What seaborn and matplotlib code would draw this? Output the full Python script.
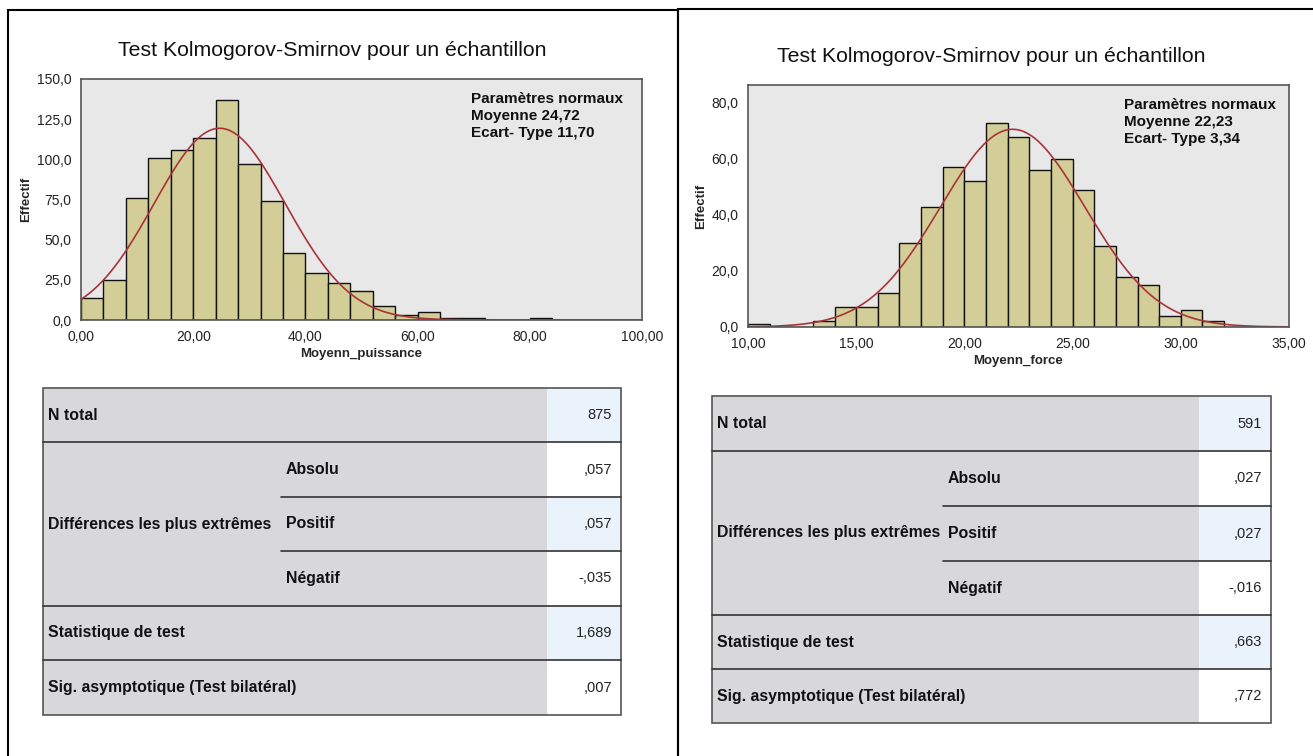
import numpy as np
import pandas as pd
import seaborn as sns
import matplotlib.pyplot as plt
from matplotlib.patches import Rectangle
from matplotlib.ticker import FuncFormatter

# Histogram data
puis_edges = list(range(0, 104, 4))
puis_counts = [14, 25, 76, 101, 106, 113, 137, 97, 74, 42, 29, 23, 18, 9, 3, 5,
               1, 1, 0, 0, 1, 0, 0, 0, 0]
force_edges = list(range(10, 36, 1))
force_counts = [1, 0, 0, 2, 7, 7, 12, 30, 43, 57, 52, 73, 68, 56, 60, 49, 29, 18,
                15, 4, 6, 2, 0, 0, 0]

puis_mean, puis_sd, puis_n = 24.72, 11.70, 875
force_mean, force_sd, force_n = 22.23, 3.34, 591

# Table content
row_labels = ["N total", "Différences les plus extrêmes", "Statistique de test",
              "Sig. asymptotique (Test bilatéral)"]
sub_labels = ["Absolu", "Positif", "Négatif"]
puis_values = ["875", ",057", ",057", "-,035", "1,689", ",007"]
force_values = ["591", ",027", ",027", "-,016", ",663", ",772"]

W, H = 1313, 756
BAR = "#d3ce97"
CURVE = "#a8343a"
AXBG = "#e8e8e8"
GRAY = "#d8d8da"
BLUE = "#eaf3fc"
NARROW = ["Liberation Sans Narrow", "Liberation Sans", "DejaVu Sans"]

sns.set_style("white")
plt.rcParams["font.family"] = ["Liberation Sans", "DejaVu Sans"]

fig = plt.figure(figsize=(W / 100, H / 100), dpi=100)


def fx(x):
    return x / W


def fy(y):
    return 1 - y / H


def comma_fmt(decimals):
    return FuncFormatter(lambda v, p: f"{v:.{decimals}f}".replace(".", ","))


def draw_hist(rect, edges, counts, mean, sd, n, xlim, ylim, xticks, yticks, xlabel, title_xy):
    x0, y0, x1, y1 = rect
    ax = fig.add_axes([fx(x0), fy(y1), fx(x1 - x0), (y1 - y0) / H])
    ax.set_facecolor(AXBG)
    e = np.asarray(edges, dtype=float)
    centers = (e[:-1] + e[1:]) / 2
    df = pd.DataFrame({"x": centers, "n": counts})
    sns.histplot(data=df, x="x", weights="n", bins=edges, ax=ax, color=BAR,
                 edgecolor="#111111", linewidth=1.0, alpha=1)
    width = e[1] - e[0]
    xs = np.linspace(xlim[0], xlim[1], 400)
    ys = n * width * np.exp(-0.5 * ((xs - mean) / sd) ** 2) / (sd * np.sqrt(2 * np.pi))
    sns.lineplot(x=xs, y=ys, ax=ax, color=CURVE, linewidth=1.2)
    ax.set_xlim(xlim)
    ax.set_ylim(ylim)
    ax.set_xticks(xticks)
    ax.set_yticks(yticks)
    ax.xaxis.set_major_formatter(comma_fmt(2))
    ax.yaxis.set_major_formatter(comma_fmt(1))
    ax.tick_params(axis="both", direction="out", length=6, width=1, color="#444444",
                   labelsize=10, labelcolor="#222222", pad=1)
    ax.tick_params(axis="x", length=7, pad=0)
    for s in ax.spines.values():
        s.set_color("#555555")
        s.set_linewidth(1.2)
    ax.set_xlabel(xlabel, fontsize=9.5, fontweight="bold", family=NARROW, labelpad=3)
    ax.set_ylabel("Effectif", fontsize=9.5, fontweight="bold", family=NARROW, labelpad=3)
    ax.text(0.695, 0.945,
            f"Paramètres normaux\nMoyenne {mean:.2f}\nEcart- Type {sd:.2f}".replace(".", ","),
            transform=ax.transAxes, ha="left", va="top", fontsize=11,
            fontweight="bold", family=NARROW, linespacing=1.25, color="#111111")
    fig.text(fx(title_xy[0]), fy(title_xy[1]), "Test Kolmogorov-Smirnov pour un échantillon",
             ha="center", va="center", fontsize=15.3, color="#111111")
    return ax


def draw_table(x0, x1, xs, xv, ys, values):
    # gray label area and value column
    fig.add_artist(Rectangle((fx(x0), fy(ys[-1])), fx(xv - x0), (ys[-1] - ys[0]) / H,
                             facecolor=GRAY, edgecolor="none", transform=fig.transFigure))
    for i in range(6):
        col = BLUE if i % 2 == 0 else "white"
        fig.add_artist(Rectangle((fx(xv), fy(ys[i + 1])), fx(x1 - xv), (ys[i + 1] - ys[i]) / H,
                                 facecolor=col, edgecolor="none", transform=fig.transFigure))
    # outer border
    fig.add_artist(Rectangle((fx(x0), fy(ys[-1])), fx(x1 - x0), (ys[-1] - ys[0]) / H,
                             facecolor="none", edgecolor="#555555", linewidth=1.2,
                             transform=fig.transFigure))
    for i in (1, 4, 5):
        fig.add_artist(plt.Line2D([fx(x0), fx(x1)], [fy(ys[i])] * 2, color="#333333",
                                  linewidth=1.2, transform=fig.transFigure))
    for i in (2, 3):
        fig.add_artist(plt.Line2D([fx(xs), fx(x1)], [fy(ys[i])] * 2, color="#333333",
                                  linewidth=1.2, transform=fig.transFigure))
    mid = lambda a, b: fy((a + b) / 2)
    kw = dict(fontsize=11.4, fontweight="bold", family=NARROW, va="center", ha="left",
              color="#111111")
    fig.text(fx(x0 + 5), mid(ys[0], ys[1]), row_labels[0], **kw)
    fig.text(fx(x0 + 5), mid(ys[1], ys[4]), row_labels[1], **kw)
    fig.text(fx(x0 + 5), mid(ys[4], ys[5]), row_labels[2], **kw)
    fig.text(fx(x0 + 5), mid(ys[5], ys[6]), row_labels[3], **kw)
    for k, lab in enumerate(sub_labels):
        fig.text(fx(xs + 5), mid(ys[k + 1], ys[k + 2]), lab, **kw)
    for i, v in enumerate(values):
        fig.text(fx(x1 - 9), mid(ys[i], ys[i + 1]), v, fontsize=10.5, family=NARROW,
                 color="#222222", ha="right", va="center")


# panel frames
fig.add_artist(Rectangle((fx(8), -0.01), fx(678 - 8), fy(10) + 0.01, facecolor="none",
                         edgecolor="black", linewidth=1.5, transform=fig.transFigure))
fig.add_artist(Rectangle((fx(678), -0.01), fx(W + 5 - 678), fy(9) + 0.01, facecolor="none",
                         edgecolor="black", linewidth=1.5, transform=fig.transFigure))

draw_hist((81, 79, 642, 320), puis_edges, puis_counts, puis_mean, puis_sd, puis_n,
          (0, 100), (0, 150), np.arange(0, 101, 20), np.arange(0, 151, 25),
          "Moyenn_puissance", (332, 50))
draw_hist((748, 85, 1289, 327), force_edges, force_counts, force_mean, force_sd, force_n,
          (10, 35), (0, 86.4), np.arange(10, 36, 5), np.arange(0, 81, 20),
          "Moyenn_force", (991, 57))

draw_table(43, 621, 281, 547, [388, 442, 497, 551, 606, 660, 715], puis_values)
draw_table(712, 1271, 943, 1199, [396, 451, 506, 561, 615, 669, 723], force_values)

fig.savefig("out.png", dpi=100)
